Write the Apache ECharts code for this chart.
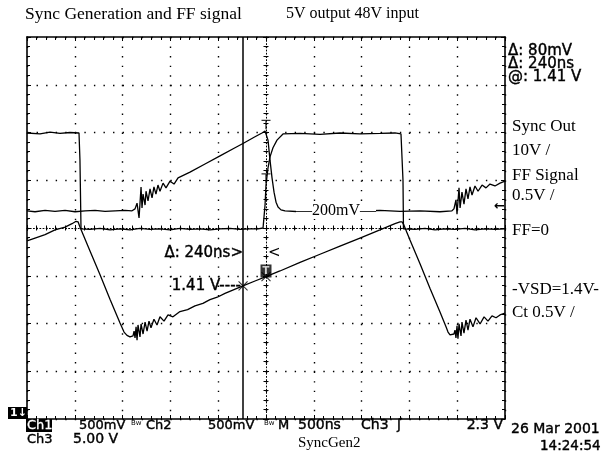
<!DOCTYPE html>
<html><head><meta charset="utf-8">
<script src="https://cdn.jsdelivr.net/npm/echarts/dist/echarts.min.js"></script>
<style>html,body{margin:0;padding:0;background:#fff}#c{width:607px;height:453px}</style>
</head><body><div id="c"></div>
<script>
// time in ns relative to trigger (centre), amplitude in screen divisions
const timeRangeNs = [-2500, 2500];
const divRange = [-4, 4];
const timePerDivNs = 500;

const syncOut = [[-2500,1.99],[-2364,1.97],[-2259,2.01],[-2155,1.98],[-2050,2.0],[-1956,1.99],[-1946,1.42],[-1935,-0.02],
[-1841,-0.03],[-1736,-0.01],[-1632,-0.04],[-1527,-0.02],[-1423,-0.04],[-1318,-0.01],[-1213,-0.03],[-1109,-0.02],[-1004,-0.04],[-900,-0.01],[-795,-0.03],[-690,-0.02],[-586,-0.04],[-481,-0.02],[-377,-0.01],[-272,-0.03],[-167,-0.02],[-84,-0.02],[-31,0.0],
[-10,0.48],[0,0.90],[21,1.26],[42,1.49],[73,1.68],[115,1.84],[178,1.97],
[356,1.98],[565,1.96],[774,1.99],[983,1.97],[1192,1.98],[1349,1.99],[1412,1.97],
[1423,1.97],[1433,1.0],[1438,-0.02],
[1559,-0.03],[1663,-0.01],[1768,-0.04],[1872,-0.02],[1977,-0.03],[2082,-0.01],[2186,-0.04],[2291,-0.02],[2395,-0.03],[2500,-0.02]];

const ffSignal = [[-2500,0.36],[-2416,0.34],[-2311,0.37],[-2207,0.35],[-2102,0.37],[-1997,0.34],[-1893,0.36],[-1788,0.37],[-1684,0.35],[-1579,0.36],[-1475,0.37],[-1401,0.36],
[-1370,0.40],[-1349,0.52],[-1328,0.21],[-1307,0.86],[-1297,0.42],[-1286,0.71],[-1265,0.48],[-1255,0.77],[-1234,0.57],[-1213,0.82],[-1192,0.63],[-1172,0.86],[-1151,0.71],[-1130,0.90],[-1109,0.77],[-1077,0.94],[-1046,0.84],[-1004,0.98],[-962,0.92],[-920,1.05],
[-795,1.17],[-638,1.34],[-481,1.51],[-324,1.68],[-241,1.77],[-115,1.91],[-42,1.99],[-10,2.03],[0,2.04],
[10,2.01],[21,1.84],[42,1.42],[63,1.05],[84,0.75],[105,0.54],[126,0.44],[157,0.38],[199,0.36],
[356,0.34],[565,0.37],[774,0.35],[983,0.36],[1192,0.37],[1402,0.35],[1611,0.36],[1820,0.34],[1945,0.36],
[1966,0.40],[1987,0.59],[1998,0.29],[2019,0.84],[2030,0.42],[2050,0.75],[2071,0.50],[2092,0.82],[2113,0.61],[2134,0.86],[2155,0.69],[2186,0.88],[2218,0.77],[2260,0.90],[2301,0.84],[2343,0.92],[2395,0.88],[2448,0.94],[2500,0.98]];

const ctRamp = [[-2500,-0.27],[-2416,-0.21],[-2311,-0.14],[-2207,-0.04],[-2102,0.02],[-2029,0.09],[-1987,0.14],[-1966,0.13],
[-1946,0.02],[-1841,-0.48],[-1736,-0.98],[-1632,-1.49],[-1527,-1.99],[-1485,-2.18],[-1454,-2.25],[-1423,-2.28],[-1391,-2.26],
[-1380,-2.16],[-1370,-2.30],[-1359,-2.07],[-1349,-2.35],[-1339,-2.03],[-1318,-2.28],[-1307,-2.01],[-1286,-2.22],[-1265,-1.97],[-1244,-2.16],[-1224,-1.95],[-1203,-2.09],[-1172,-1.91],[-1140,-2.03],[-1109,-1.86],[-1067,-1.95],[-1025,-1.82],[-973,-1.86],
[-900,-1.75],[-820,-1.71],[-743,-1.63],[-660,-1.58],[-586,-1.50],[-510,-1.45],[-429,-1.37],[-241,-1.21],[-115,-1.11],[0,-1.02],[146,-0.90],[356,-0.72],[565,-0.55],[774,-0.38],[983,-0.21],[1192,-0.04],[1349,0.09],[1402,0.13],[1423,0.13],[1443,0.06],
[1506,-0.25],[1611,-0.75],[1715,-1.26],[1820,-1.76],[1883,-2.07],[1904,-2.18],[1925,-2.24],[1945,-2.26],[1966,-2.22],
[1977,-2.14],[1987,-2.30],[1998,-2.05],[2008,-2.32],[2019,-2.01],[2040,-2.26],[2050,-1.97],[2071,-2.20],[2092,-1.93],[2113,-2.14],[2134,-1.91],[2165,-2.07],[2197,-1.88],[2239,-2.01],[2281,-1.86],[2322,-1.95],[2364,-1.84],[2406,-1.88],[2448,-1.82],[2500,-1.78]];

const cursorTimesNs = [-240];
const crossMarks = [[-240,-1.21],[0,-1.02]];
const barMarks = [[0,2.16],[0,1.04]];
const triggerBox = [[0,-0.9]];

const SERIF = "'Liberation Serif','Times New Roman',serif";
const SANS = "'DejaVu Sans',sans-serif";

function txt(x, y, text, o) {
  o = o || {};
  const st = {text: text, fill: o.fill || '#000',
    font: (o.weight || 'normal') + ' ' + (o.size || 15) + 'px ' + (o.family || SANS),
    align: o.align || 'left', verticalAlign: 'middle', textAlign: o.align || 'left', textVerticalAlign: 'middle'};
  if (o.stroke) { st.stroke = o.stroke; st.lineWidth = o.lw || 0.4; }
  if (o.bg) { st.backgroundColor = o.bg; st.padding = o.pad || [0, 0]; }
  return {type: 'text', x: x, y: y, z: 100, silent: true, style: st};
}
function box(x, y, w, h) {
  return {type: 'rect', z: 99, silent: true, shape: {x: x, y: y, width: w, height: h}, style: {fill: '#000'}};
}

const tickStyle = {color: '#000', width: 1};
function xAx(pos, extra) {
  return Object.assign({type: 'value', min: timeRangeNs[0], max: timeRangeNs[1], interval: timePerDivNs, position: pos,
    axisLine: {show: true, onZero: false, lineStyle: {color: '#000', width: 1.6}},
    axisTick: {show: true, inside: true, length: 4, lineStyle: tickStyle},
    minorTick: {show: true, splitNumber: 5, length: 3, lineStyle: tickStyle},
    axisLabel: {show: false}, splitLine: {show: false}}, extra || {});
}
function yAx(pos, extra) {
  return Object.assign({type: 'value', min: divRange[0], max: divRange[1], interval: 1, position: pos,
    axisLine: {show: true, onZero: false, lineStyle: {color: '#000', width: 1.6}},
    axisTick: {show: true, inside: true, length: 4, lineStyle: tickStyle},
    minorTick: {show: true, splitNumber: 5, length: 3, lineStyle: tickStyle},
    axisLabel: {show: false}, splitLine: {show: false}}, extra || {});
}
const dotted = {show: true, lineStyle: {color: '#000', width: 1.4, type: [1.4, 8.16]}};
const centreLine = {show: true, onZero: true, onZeroAxisIndex: 0, lineStyle: {color: '#000', width: 1, type: [1, 2.2]}};
const centreHidden = {show: false, onZero: true, onZeroAxisIndex: 0};
const cTick = {show: true, inside: true, length: 3, lineStyle: tickStyle};
const cMinor = {show: true, splitNumber: 5, length: 2.5, lineStyle: tickStyle};

function trace(data) {
  return {type: 'line', data: data, xAxisIndex: 0, yAxisIndex: 0, symbol: 'none', smooth: false, silent: true,
    lineStyle: {color: '#000', width: 1.3}, z: 5};
}

const chart = echarts.init(document.getElementById('c'), null, {renderer: 'canvas'});
chart.setOption({
  animation: false,
  backgroundColor: '#fff',
  grid: {left: 27, top: 37, width: 478, height: 382, containLabel: false, show: false},
  xAxis: [
    xAx('bottom', {splitLine: dotted}),
    xAx('top'),
    xAx('bottom', {axisLine: centreLine, axisTick: cTick, minorTick: cMinor}),
    xAx('top', {axisLine: centreHidden, axisTick: cTick, minorTick: cMinor})
  ],
  yAxis: [
    yAx('left', {splitLine: dotted}),
    yAx('right'),
    yAx('left', {axisLine: centreLine, axisTick: cTick, minorTick: cMinor}),
    yAx('right', {axisLine: centreHidden, axisTick: cTick, minorTick: cMinor})
  ],
  series: [
    trace(syncOut),
    trace(ffSignal),
    Object.assign(trace(ctRamp), {
      markLine: {silent: true, symbol: 'none', label: {show: false},
        lineStyle: {color: '#000', type: 'solid', width: 1.5},
        data: cursorTimesNs.map(t => ({xAxis: t}))}
    }),
    {type: 'scatter', data: crossMarks, symbol: 'path://M0,0L10,10M10,0L0,10', symbolSize: 9, silent: true, z: 6,
      itemStyle: {color: 'none', borderColor: '#000', borderWidth: 1.1}},
    {type: 'scatter', data: barMarks, symbol: 'path://M0,0L10,0M5,0L5,10', symbolSize: [9, 9], silent: true, z: 6,
      itemStyle: {color: 'none', borderColor: '#000', borderWidth: 1.4}},
    {type: 'scatter', data: triggerBox, symbol: 'rect', symbolSize: [11, 13], silent: true, z: 7,
      itemStyle: {color: '#000'},
      label: {show: true, position: 'inside', formatter: 'T', color: '#fff', fontSize: 10, fontWeight: 'bold', fontFamily: SANS}}
  ],
  graphic: [
    txt(25, 14, 'Sync Generation and FF signal', {family: SERIF, size: 17.5}),
    txt(286, 14, '5V output 48V input', {family: SERIF, size: 16}),
    txt(508, 51, 'Δ: 80mV', {size: 15, stroke: '#000'}),
    txt(508, 64, 'Δ: 240ns', {size: 15, stroke: '#000'}),
    txt(508, 77.5, '@: 1.41 V', {size: 15, stroke: '#000'}),
    txt(512, 127, 'Sync Out', {family: SERIF, size: 17}),
    txt(512, 151, '10V /', {family: SERIF, size: 17}),
    txt(512, 176, 'FF Signal', {family: SERIF, size: 17}),
    txt(512, 196, '0.5V /', {family: SERIF, size: 17}),
    txt(505, 207, '←', {size: 13, weight: 'bold', align: 'right'}),
    txt(512, 231, 'FF=0', {family: SERIF, size: 17}),
    txt(512, 290, '-VSD=1.4V-', {family: SERIF, size: 17}),
    txt(512, 313, 'Ct 0.5V /', {family: SERIF, size: 17}),
    txt(243, 253, 'Δ: 240ns>', {size: 15, stroke: '#000', align: 'right'}),
    txt(268, 253, '<', {size: 15, align: 'left'}),
    txt(241, 286, '1.41 V----', {size: 15, stroke: '#000', align: 'right'}),
    txt(336, 211, '—200mV—', {family: SERIF, size: 16, align: 'center', bg: '#fff'}),
    box(8, 407, 19, 12),
    txt(10, 413, '1↓', {size: 11, fill: '#fff', weight: 'bold'}),
    box(26, 419, 26, 13),
    txt(27, 425.5, 'Ch1', {size: 13, fill: '#fff', stroke: '#fff', lw: 0.3}),
    txt(79, 425.5, '500mV', {size: 13, stroke: '#000'}),
    txt(131, 423, 'Bw', {size: 7}),
    txt(146, 425.5, 'Ch2', {size: 13, stroke: '#000'}),
    txt(208, 425.5, '500mV', {size: 13, stroke: '#000'}),
    txt(264, 423, 'Bw', {size: 7}),
    txt(278, 425.5, 'M', {size: 13, stroke: '#000'}),
    txt(298, 425.5, '500ns', {size: 14, stroke: '#000'}),
    txt(361, 425.5, 'Ch3', {size: 14, stroke: '#000'}),
    txt(397, 425.5, 'ʃ', {size: 14, stroke: '#000'}),
    txt(503, 425.5, '2.3 V', {size: 14, stroke: '#000', align: 'right'}),
    txt(511, 429, '26 Mar 2001', {size: 14, stroke: '#000'}),
    txt(27, 439.5, 'Ch3', {size: 13, stroke: '#000'}),
    txt(73, 439.5, '5.00 V', {size: 14, stroke: '#000'}),
    txt(298, 443, 'SyncGen2', {family: SERIF, size: 15}),
    txt(540, 446, '14:24:54', {size: 13.5, stroke: '#000'})
  ]
});
</script>
</body></html>
